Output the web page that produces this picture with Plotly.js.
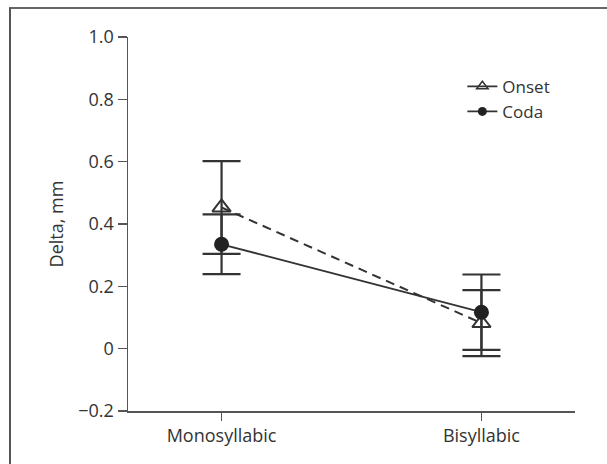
<!DOCTYPE html>
<html>
<head>
<meta charset="utf-8">
<script src="https://cdn.plot.ly/plotly-3.0.1.min.js"></script>
<style>
  html, body { margin: 0; padding: 0; background: #fff; }
  #wrap { position: relative; width: 607px; height: 464px; }
  #chart { width: 607px; height: 464px; }
  #frame {
    position: absolute; left: 9px; top: 7px; right: -4px; bottom: -4px;
    border-left: 2px solid #555; border-top: 2px solid #666;
    pointer-events: none;
  }
</style>
</head>
<body>
<div id="wrap">
  <div id="chart"></div>
  <div id="frame"></div>
</div>
<script>
// Syllable structure conditions
const categories = ['Monosyllabic', 'Bisyllabic'];

// Mean delta (mm) with error half-widths
const onsetMean = [0.453, 0.082];
const onsetErr  = [0.149, 0.106];
const codaMean  = [0.335, 0.117];
const codaErr   = [0.096, 0.121];

const yTicks = [-0.2, 0, 0.2, 0.4, 0.6, 0.8, 1.0];
const yTickText = ['\u22120.2', '0', '0.2', '0.4', '0.6', '0.8', '1.0'];

const ink = '#333333';

const traces = [
  {
    x: categories, y: onsetMean, type: 'scatter', mode: 'lines+markers',
    name: 'Onset', showlegend: false,
    line: { color: ink, width: 2, dash: '9px,6px' },
    marker: { symbol: 'triangle-up-open', size: 16, color: ink, line: { color: ink, width: 2 } },
    error_y: { type: 'data', array: onsetErr, visible: true, color: ink, thickness: 2.2, width: 19 }
  },
  {
    x: categories, y: codaMean, type: 'scatter', mode: 'lines+markers',
    name: 'Coda', showlegend: false,
    line: { color: ink, width: 1.8 },
    marker: { symbol: 'circle', size: 15, color: '#222' },
    error_y: { type: 'data', array: codaErr, visible: true, color: ink, thickness: 2.2, width: 19 }
  },
  // legend entries
  {
    x: [null], y: [null], type: 'scatter', mode: 'lines+markers', name: 'Onset',
    line: { color: ink, width: 1.8 },
    marker: { symbol: 'triangle-up-open', size: 10, color: ink, line: { color: ink, width: 1.5 } }
  },
  {
    x: [null], y: [null], type: 'scatter', mode: 'lines+markers', name: 'Coda',
    line: { color: ink, width: 1.8 },
    marker: { symbol: 'circle', size: 9, color: '#222' }
  }
];

const layout = {
  width: 607, height: 464,
  margin: { l: 128, r: 32, t: 37, b: 53 },
  paper_bgcolor: '#fff', plot_bgcolor: '#fff',
  font: { family: '"Open Sans", "Noto Sans", sans-serif', size: 18, color: ink },
  showlegend: true,
  legend: {
    x: 0.748, y: 0.915, xanchor: 'left', yanchor: 'top',
    bgcolor: 'rgba(0,0,0,0)', font: { size: 17, color: ink },
    itemwidth: 30, tracegroupgap: 0
  },
  xaxis: {
    type: 'category', range: [-0.36, 1.36],
    showline: true, linecolor: '#555', linewidth: 1.5,
    ticks: 'outside', ticklen: 8, tickcolor: '#555', tickwidth: 1.5,
    showgrid: false, zeroline: false,
    tickfont: { size: 18, color: ink }
  },
  yaxis: {
    range: [-0.2, 1.0], tickvals: yTicks, ticktext: yTickText,
    showline: true, linecolor: '#555', linewidth: 1.5,
    ticks: 'outside', ticklen: 9, tickcolor: '#555', tickwidth: 1.5,
    showgrid: false, zeroline: false,
    tickfont: { size: 18, color: ink },
    title: { text: 'Delta, mm', font: { size: 18, color: ink }, standoff: 10 }
  }
};

Plotly.newPlot('chart', traces, layout, { staticPlot: true, displayModeBar: false });
</script>
</body>
</html>
